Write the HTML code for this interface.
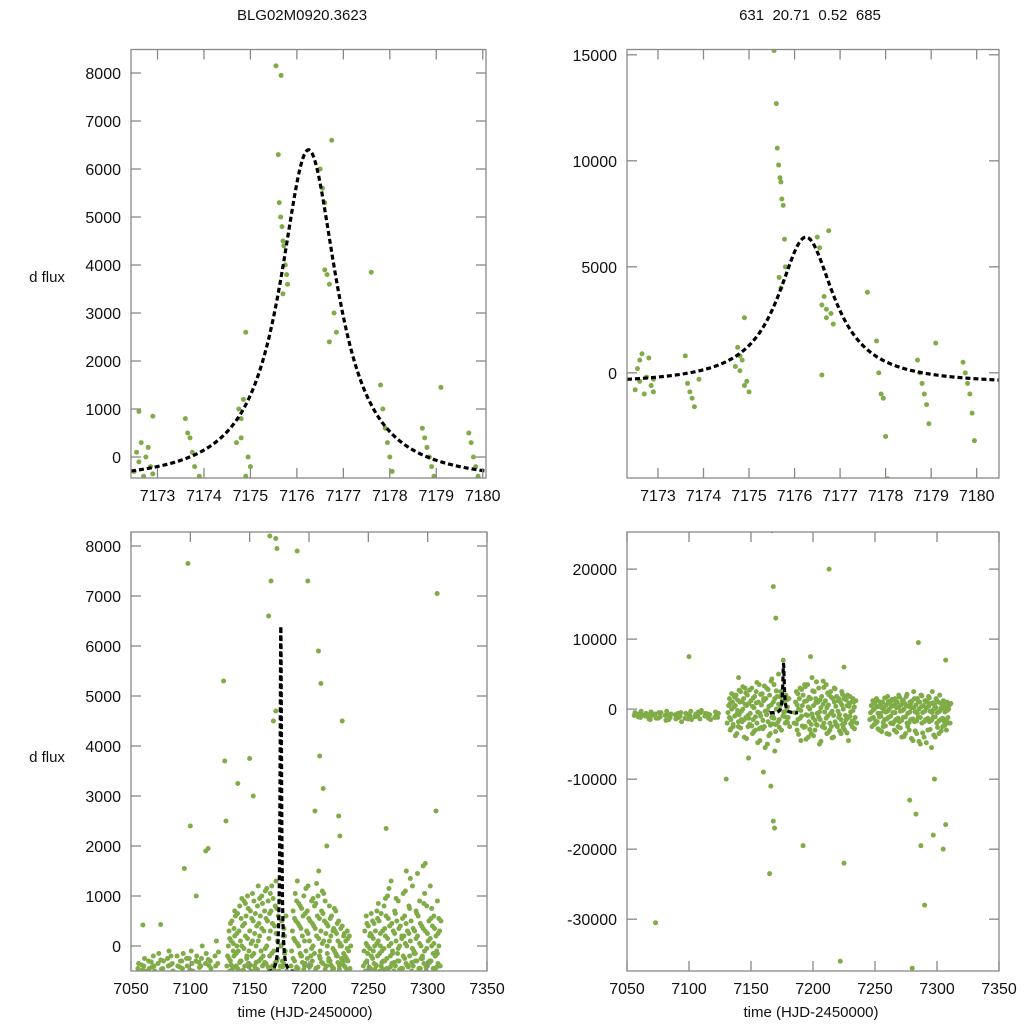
<!DOCTYPE html>
<html><head><meta charset="utf-8"><style>
body{margin:0;background:#fff}
svg{display:block;font-family:"Liberation Sans",sans-serif}
</style></head><body>
<svg id="c" width="1024" height="1024" viewBox="0 0 1024 1024"></svg>
<script>
// ---- data ----
const zoomXTicks=[7173,7174,7175,7176,7177,7178,7179,7180];
const seasonXTicks=[7050,7100,7150,7200,7250,7300,7350];
const tlYTicks=[0,1000,2000,3000,4000,5000,6000,7000,8000];
const trYTicks=[0,5000,10000,15000];
const blYTicks=[0,1000,2000,3000,4000,5000,6000,7000,8000];
const brYTicks=[-30000,-20000,-10000,0,10000,20000];
const modelT0=7176.25, modelW=0.75, modelBase=-550, modelAmp=6950;
const tlT=[7172.5,7172.55,7172.6,7172.65,7172.7,7172.75,7172.8,7172.85,7172.9,7172.6,7172.9,
7173.6,7173.65,7173.7,7173.75,7173.8,7173.9,
7174.7,7174.75,7174.8,7174.85,7174.9,7174.95,7175.0,7174.8,7174.9,
7175.55,7175.6,7175.62,7175.65,7175.68,7175.7,7175.72,7175.75,7175.78,7175.8,7175.66,7175.7,
7176.5,7176.55,7176.6,7176.65,7176.7,7176.75,7176.8,7176.85,7176.6,7176.7,
7177.6,7177.8,7177.85,7177.9,7177.95,7178.0,7178.05,
7178.7,7178.75,7178.8,7178.85,7178.9,7178.95,7179.1,
7179.7,7179.75,7179.8,7179.85,7179.9,7179.95];
const tlV=[-300,100,-100,300,-400,0,200,-200,-350,950,850,
800,500,400,100,-200,-400,
300,1000,800,1200,2600,0,-200,400,-400,
8150,6300,5300,5000,4800,4500,4400,4000,3800,3600,7950,3400,
6000,5600,3900,3800,3600,6600,3000,2600,5300,2400,
3850,1500,1000,600,300,0,-300,
600,400,200,0,-200,-400,1450,
500,300,0,-200,-400,-500];
const trV=[-800,200,-400,900,-1000,-200,700,-600,-900,600,-300,
800,-500,-900,-1200,-1600,-300,
300,1200,800,600,2600,-400,-900,100,-600,
15200,12700,10600,9800,9200,9000,8200,7900,6300,5000,4500,4000,
6400,5900,-100,3600,3000,6700,2800,2300,3200,2600,
3800,1500,0,-1000,-1200,-3000,-5000,
600,0,-500,-1000,-1500,-2400,1400,
500,0,-500,-1000,-1900,-3200];
const nightT=[7057,7062,7066,7070,7074,7078,7082,7086,7090,7094,7098,7102,7106,7110,7114,7118,7122,
7132,7135,7138,7141,7144,7147,7150,7153,7156,7159,7162,7165,7168,7171,7174,7177,7180,
7186,7189,7192,7195,7198,7201,7204,7207,7210,7213,7216,7219,7222,7225,7228,7231,7234,
7247,7250,7253,7256,7259,7262,7265,7268,7271,7274,7277,7280,7283,7286,7289,7292,7295,7298,7301,7304,7307,7310];
const blNight=[[-450,-350],[-400,-250,-500],[-300,-450],[-200,-400,-500],[-350,-150],[-450,-300],[-250,-400,-100],[-350,-500],[-200,-400],[-300,-450,-150],[-250,-400],[-100,-350,-500],[-300,-200],[-400,-250,0],[-350,-150],[-300,-450],[-200,-400,100],
[-400,-200,0,300,-500],[-300,100,500,-450,-100],[-200,200,600,-400,0],[-450,-100,300,800,-300],[-300,0,400,-500,900],[-400,200,600,-200,1000],[-350,-100,300,700,-500],[-200,100,500,900,-400],[-450,0,400,800,1200],[-300,200,600,-100,1000],[-400,-200,300,700,1100],[-350,0,500,900,-500],[-200,300,700,1200,-400],[-450,-100,400,800,1300],[-300,100,600,-500,900],[-400,0,500,-300,200],[-350,200,-100,600,-500],
[-400,-100,300,700,-500],[-300,100,500,900,1300],[-450,0,400,800,-200],[-200,200,600,1000,-400],[-350,-100,300,700,1200],[-400,100,500,-200,900],[-300,0,400,800,-500],[-450,200,600,1000,1500],[-200,-100,300,700,1100],[-350,100,500,900,-400],[-400,0,400,-300,800],[-300,200,600,-500,300],[-450,-100,300,700,-200],[-200,100,500,-400,0],[-350,0,400,-300,200],[-400,-200,100,-500,300],[-300,-100,200,-450,0],
[-400,-100,300,-500,600],[-300,0,400,-450,200],[-450,-200,200,500,-100],[-350,0,300,-400,700],[-200,100,500,-500,0],[-400,-100,300,-300,800],[-300,200,600,-450,1000],[-450,0,400,-200,1300],[-350,-100,300,-500,700],[-400,100,500,-300,900],[-300,0,400,-450,200],[-450,-200,200,600,1100],[-350,0,300,-400,800],[-200,100,500,-500,1200],[-400,-100,300,-300,700],[-300,200,600,-450,900],[-450,0,400,-200,1600],[-350,-100,300,-500,800],[-400,100,500,-300,1200],[-300,0,400,-450,600],[-450,-200,200,-100,900],[-350,0,300,-400,500],[-300,-100,200,-500,300]];
const brNight=[[-900,-500],[-1200,-300,-800],[-1000,-600],[-1500,-400,-900],[-700,-1300],[-1100,-500],[-900,-1600,-300],[-1200,-700],[-800,-1400],[-1000,-500,-1800],[-1300,-600],[-900,-300,-1500],[-1100,-700],[-1400,-500,-200],[-1000,-600],[-800,-1500],[-1200,-400,-900],
[-2000,-500,500,1500,-3000],[-1500,0,1000,-2500,2000],[-1000,500,2000,-3500,-200],[-2500,-800,1000,2500,-1500],[-1800,0,1500,-4000,3000],[-1200,500,2000,-2500,800],[-2200,-600,1200,3000,-3500],[-1500,200,1800,-3000,2500],[-2000,-400,1000,3500,-4500],[-1000,600,2200,-2800,1500],[-2500,-300,1500,3000,-5000],[-1800,400,2000,-3500,4000],[-1200,-800,1000,3500,-6000],[-2200,0,1800,-4500,5000],[-1500,500,2500,-3000,1200],[-1000,-400,1000,-2000,2000],[-1800,300,-1200,1500,-2500],
[-2000,-500,1000,2500,-3000],[-1500,0,1500,3000,-4500],[-1000,500,2000,-2500,3500],[-2500,-800,1200,3500,-4000],[-1800,0,1500,-3500,4500],[-1200,500,2500,-3000,1500],[-2200,-600,1000,3000,-5000],[-1500,200,1800,-2500,4000],[-2000,-400,1200,3500,-3500],[-1000,600,2000,-3000,2500],[-2500,-300,1500,-4000,3000],[-1800,400,1800,-2500,1200],[-1200,-800,1000,-3500,2500],[-2200,0,1500,-3000,1800],[-1500,500,2000,-4500,800],[-1000,-400,1000,-2500,1500],[-1800,300,-1200,1200,-2000],
[-1500,-500,500,-2500,1200],[-1200,0,800,-2000,1500],[-1800,-600,400,-3000,1000],[-1000,200,1000,-2500,-300],[-1500,-400,600,-3500,1800],[-1200,0,800,-2000,1200],[-2000,-500,500,-3000,1500],[-1500,200,1000,-2500,2000],[-1800,-300,600,-4000,1200],[-1200,0,800,-3500,1800],[-2000,-600,400,-3000,1000],[-1500,200,1200,-4500,2500],[-1800,-400,600,-3500,1500],[-1200,0,1000,-5000,2000],[-2000,-500,500,-4000,1200],[-1500,200,1000,-3000,1800],[-1800,-300,800,-5500,2500],[-1200,0,600,-4000,1500],[-2000,-500,1000,-3500,2000],[-1500,200,800,-2500,1200],[-1800,-400,400,-3000,1000],[-1200,0,600,-2000,800],[-1500,-300,400,-2500,600]];
const nightT2=[7060,7068,7076,7084,7092,7100,7108,7116,7124,
7133.5,7136.5,7139.5,7142.5,7145.5,7148.5,7151.5,7154.5,7157.5,7160.5,7163.5,7166.5,7169.5,7172.5,7178.5,
7187.5,7190.5,7193.5,7196.5,7199.5,7202.5,7205.5,7208.5,7211.5,7214.5,7217.5,7220.5,7223.5,7226.5,7229.5,7232.5,
7248.5,7251.5,7254.5,7257.5,7260.5,7263.5,7266.5,7269.5,7272.5,7275.5,7278.5,7281.5,7284.5,7287.5,7290.5,7293.5,7296.5,7299.5,7302.5,7305.5,7308.5];
const blNight2=[[-380,-480],[-320,-420],[-280,-460],[-380,-200],[-420,-300],[-250,-480],[-330,-430],[-270,-390],[-350,-120],
[-250,150,450,-380],[-420,50,350,700],[-150,250,650,-470],[-330,100,550,950],[-480,-50,450,850],[-250,150,750,-420],[-380,50,550,1050],[-150,250,650,-330],[-470,100,450,950],[-250,350,850,-380],[-330,-50,550,1150],[-420,150,650,1050],[-150,450,950,-470],[-330,250,750,-250],[-420,50,350,-150],
[-250,150,550,1050],[-420,50,450,850],[-150,350,750,-330],[-470,100,650,1150],[-250,250,550,-420],[-380,-50,450,950],[-150,350,850,1250],[-420,150,550,-250],[-330,50,650,1050],[-470,250,450,-150],[-250,100,550,-380],[-420,-50,350,750],[-150,250,450,-330],[-470,50,350,-250],[-330,-150,250,-420],[-250,-50,150,-470],
[-330,50,450,-150],[-420,-50,250,650],[-250,150,450,-470],[-380,50,550,850],[-150,250,650,-330],[-470,-50,350,950],[-250,150,550,1150],[-420,50,450,-150],[-330,250,650,950],[-150,-50,350,-470],[-470,150,550,1050],[-250,50,450,-380],[-420,250,750,1350],[-330,-50,350,-150],[-150,150,650,1450],[-470,50,450,-250],[-250,350,850,1050],[-420,-50,250,-330],[-330,150,550,750],[-150,50,350,-470],[-420,-150,250,550]];
const brNight2=[[-1100,-700],[-800,-1400],[-1300,-500],[-900,-1500],[-600,-1200],[-1400,-800],[-1000,-400],[-700,-1300],[-1200,-600],
[-1200,800,-2800,2200],[-2200,300,1700,-3800],[-700,1300,-1800,2700],[-2700,-300,1100,3200],[-1500,700,2300,-4200],[-900,-1300,2700,-2200],[-2400,400,1600,-3200],[-1100,900,3800,-4800],[-2800,-600,2100,-2600],[-1600,1200,3300,-5500],[-800,-200,2800,-3800],[-2300,600,4300,-2100],[-1300,1500,-3200,2600],[-1900,700,-2600,1800],[-1100,-300,1300,-1900],
[-2100,600,2200,-3600],[-1300,-200,2800,-2400],[-2600,1100,3200,-4300],[-900,300,1700,-2900],[-2200,-700,2600,-3800],[-1600,900,3900,-2300],[-1100,-400,1300,-4600],[-2500,700,3100,-2700],[-1300,200,2300,-3300],[-2000,-600,1700,-4100],[-900,1000,2900,-2200],[-2300,-300,1500,-3100],[-1500,600,2100,-2600],[-2000,-900,1300,-3400],[-1200,400,1800,-2100],[-1700,-200,1000,-2800],
[-1300,-200,900,-2200],[-1700,300,1300,-2800],[-1100,-600,700,-3200],[-1900,200,1600,-2400],[-1400,-300,1100,-3600],[-1000,400,1400,-2100],[-1800,-500,900,-3300],[-1300,300,1700,-2700],[-1600,-200,1300,-3900],[-1100,500,2100,-2500],[-1900,-400,800,-4200],[-1400,200,1500,-3100],[-1700,-600,1100,-4600],[-1200,300,1900,-3400],[-1800,-300,1200,-4800],[-1300,400,1600,-2900],[-1600,-500,900,-3700],[-1100,200,1300,-2600],[-1700,-300,900,-3100],[-1300,100,800,-2300],[-1500,-200,700,-2000]];
const blOutT=[7098,7100,7105,7095,7115,7113,7128,7129,7130,7140,7150,7153,7167,7172,7173,7166,7168,7172,7170,7190,7199,7208,7210,7212,7209,7225,7228,7226,7308,7307,7298,7265,7282,7215,7205,7075,7060];
const blOutV=[7650,2400,1000,1550,1950,1900,5300,3700,2500,3250,3750,3000,8200,8150,7950,6600,7300,4700,4500,7900,7300,5900,5250,3150,3800,2600,4500,2200,7050,2700,1650,2350,1500,2000,2700,430,420];
const brOutT=[7073,7167,7168,7170,7166,7168,7169,7165,7160,7192,7213,7222,7225,7280,7285,7290,7297,7305,7307,7307,7298,7278,7283,7287,7148,7130,7100,7140,7225,7198,7176];
const brOutV=[-30500,25500,17500,13000,-11000,-16000,-17000,-23500,-9000,-19500,20000,-36000,-22000,-37000,9500,-28000,-18000,-20000,-16500,7000,-10000,-13000,-15000,-19500,-7000,-10000,7500,4500,6000,7500,7000];

// ---- drawing ----
const NS='http://www.w3.org/2000/svg';
const svg=document.getElementById('c');
const GREEN='#7fac47';
function mk(tag,attrs,parent){const e=document.createElementNS(NS,tag);for(const k in attrs)e.setAttribute(k,attrs[k]);(parent||svg).appendChild(e);return e;}
function panel(name,box,xr,yr,xt,yt){
  const g=mk('g',{});
  
  
  const sx=v=>box[0]+(v-xr[0])/(xr[1]-xr[0])*(box[2]-box[0]);
  const sy=v=>box[3]-(v-yr[0])/(yr[1]-yr[0])*(box[3]-box[1]);
  const cid='clip-'+name;
  const cp=mk('clipPath',{id:cid},g);mk('rect',{x:box[0],y:box[1],width:box[2]-box[0],height:box[3]-box[1]},cp);
  const pts=mk('g',{'clip-path':'url(#'+cid+')'},g);
  
  
  const frame=mk('rect',{x:box[0],y:box[1],width:box[2]-box[0],height:box[3]-box[1],fill:'none',stroke:'#888','stroke-width':1.3},g);
  
  
  xt.forEach(v=>{const x=sx(v);
    mk('line',{x1:x,x2:x,y1:box[3],y2:box[3]-10,stroke:'#888','stroke-width':1.3},g);
    mk('line',{x1:x,x2:x,y1:box[1],y2:box[1]+10,stroke:'#888','stroke-width':1.3},g);
    const t=mk('text',{x:x,y:box[3]+23,'text-anchor':'middle','font-size':16,fill:'#111'},g);t.textContent=v;
    
    });
  yt.forEach(v=>{const y=sy(v);
    mk('line',{x1:box[0],x2:box[0]+10,y1:y,y2:y,stroke:'#888','stroke-width':1.3},g);
    mk('line',{x1:box[2],x2:box[2]-10,y1:y,y2:y,stroke:'#888','stroke-width':1.3},g);
    const t=mk('text',{x:box[0]-10,y:y+6,'text-anchor':'end','font-size':16,fill:'#111'},g);t.textContent=v;
    
    });
  return {sx,sy,pts};
}
function dot(p,t,v){const c=mk('circle',{cx:p.sx(t),cy:p.sy(v),r:2.5,fill:GREEN},p.pts);
  
  }
function model(p,t0,t1,n){let d='';for(let i=0;i<=n;i++){const t=t0+(t1-t0)*i/n;const x=(t-modelT0)/modelW;const v=modelBase+modelAmp/(1+x*x);d+=(i?'L':'M')+p.sx(t).toFixed(2)+','+p.sy(v).toFixed(2);}
  const l=mk('path',{d:d,fill:'none',stroke:'#000','stroke-width':3.2,'stroke-dasharray':'5,3'},p.pts);
  
  }

const TL=panel('panel-zoom-left',[131,49.5,486,478],[7172.43,7180.07],[-437,8490],zoomXTicks,tlYTicks);
tlT.forEach((t,i)=>dot(TL,t,tlV[i]));model(TL,7172.43,7180.07,400);
const TR=panel('panel-zoom-right',[627,49.5,999,478],[7172.32,7180.49],[-4960,15250],zoomXTicks,trYTicks);
tlT.forEach((t,i)=>dot(TR,t,trV[i]));model(TR,7172.32,7180.49,400);
const BL=panel('panel-season-left',[131,532,487,971],[7050,7350],[-500,8280],seasonXTicks,blYTicks);
nightT.forEach((t,i)=>blNight[i].forEach((v,k)=>dot(BL,t+(k-2)*0.6,v)));
nightT2.forEach((t,i)=>blNight2[i].forEach((v,k)=>dot(BL,t+(k-1.5)*0.6,v)));
blOutT.forEach((t,i)=>dot(BL,t,blOutV[i]));model(BL,7165,7188,600);
const BR=panel('panel-season-right',[627,532,999,971],[7050,7350],[-37400,25300],seasonXTicks,brYTicks);
nightT.forEach((t,i)=>brNight[i].forEach((v,k)=>dot(BR,t+(k-2)*0.6,v)));
nightT2.forEach((t,i)=>brNight2[i].forEach((v,k)=>dot(BR,t+(k-1.5)*0.6,v)));
brOutT.forEach((t,i)=>dot(BR,t,brOutV[i]));model(BR,7165,7188,600);

function label(txt,x,y,name){const t=mk('text',{x:x,y:y,'text-anchor':'middle','font-size':15,fill:'#111'});t.textContent=txt;
  
  }
label('BLG02M0920.3623',302,20,'chart-title-left');
label('631\u00a0\u00a020.71\u00a0\u00a00.52\u00a0\u00a0685',810,20,'chart-title-right');
label('d flux',47,282,'y-axis-title-top');
label('d flux',47,762,'y-axis-title-bottom');
label('time (HJD-2450000)',305,1017,'x-axis-title-left');
label('time (HJD-2450000)',811,1017,'x-axis-title-right');
</script>
</body></html>
